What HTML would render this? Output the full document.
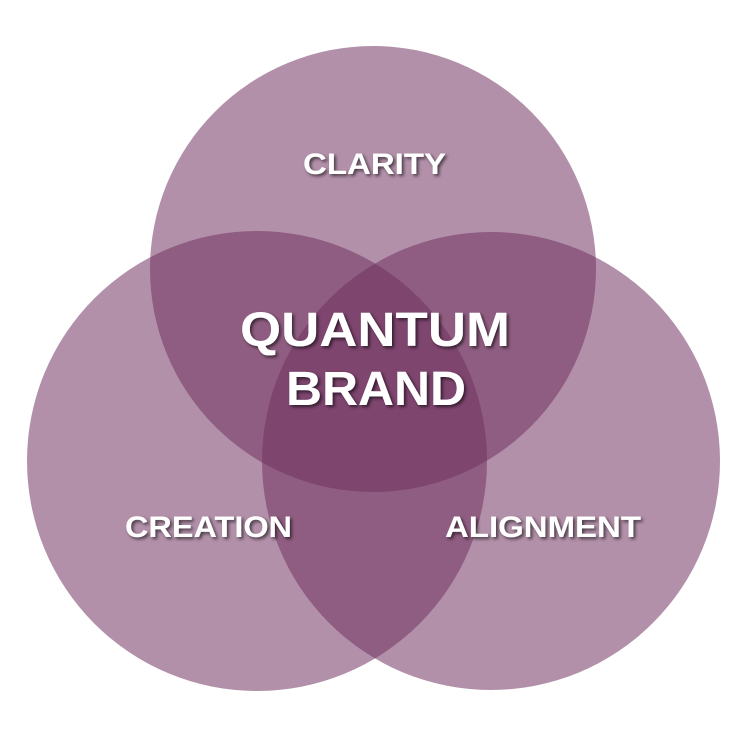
<!DOCTYPE html>
<html><head><meta charset="utf-8"><style>
html,body{margin:0;padding:0;background:#fff;}
svg text{font-family:"Liberation Sans",Arial,sans-serif;font-weight:bold;fill:#fff;}
</style></head><body>
<svg width="750" height="750" viewBox="0 0 750 750" xmlns="http://www.w3.org/2000/svg">
<defs><filter id="s" x="-20%" y="-20%" width="140%" height="140%"><feDropShadow dx="2" dy="2" stdDeviation="1.5" flood-color="#000" flood-opacity="0.6"/></filter></defs>
<g fill="rgb(112,50,97)" fill-opacity="0.54">
<circle cx="373" cy="269" r="223"/>
<circle cx="257" cy="461" r="230"/>
<circle cx="491" cy="461" r="229"/>
</g>
<g filter="url(#s)">
<text x="303" y="174" font-size="30" textLength="143" lengthAdjust="spacingAndGlyphs">CLARITY</text>
<text x="240" y="346" font-size="48" textLength="270" lengthAdjust="spacingAndGlyphs">QUANTUM</text>
<text x="286" y="405" font-size="48" textLength="180" lengthAdjust="spacingAndGlyphs">BRAND</text>
<text x="125" y="537" font-size="30" textLength="167" lengthAdjust="spacingAndGlyphs">CREATION</text>
<text x="445" y="537" font-size="30" textLength="196" lengthAdjust="spacingAndGlyphs">ALIGNMENT</text>
</g>
</svg>
</body></html>
